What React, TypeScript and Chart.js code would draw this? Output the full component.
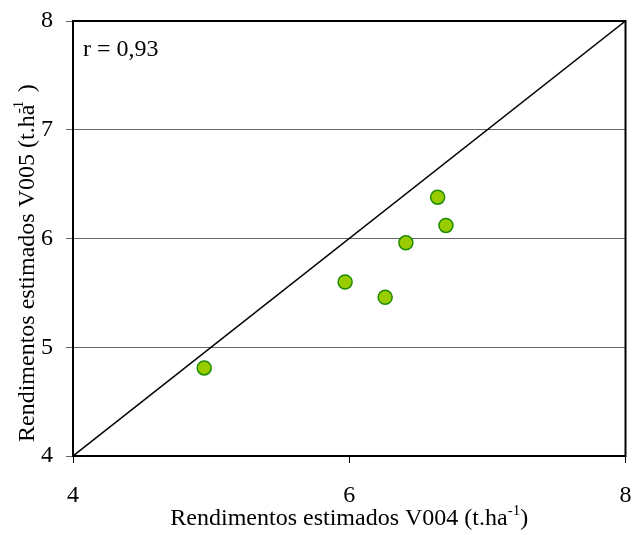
import React, { useEffect, useRef } from "react";
import { Chart, registerables } from "chart.js";

Chart.register(...registerables);

const xValues = [4.95, 5.97, 6.26, 6.41, 6.64, 6.70];
const yValues = [4.81, 5.60, 5.46, 5.96, 6.38, 6.12];
const lineX = [4, 8];
const lineY = [4, 8];
const xTitleMain = "Rendimentos estimados V004 (t.ha";
const yTitleMain = "Rendimentos estimados V005 (t.ha";
const supText = "-1";
const closeText = ")";
const rText = "r = 0,93";

const FONT = "'Liberation Serif', 'Times New Roman', serif";

const decorPlugin = {
  id: "decor",
  afterDraw(chart: any) {
    const ctx = chart.ctx;
    const a = chart.chartArea;
    ctx.save();
    ctx.strokeStyle = "#000";
    ctx.lineWidth = 2;
    ctx.strokeRect(a.left, a.top, a.right - a.left, a.bottom - a.top);

    ctx.fillStyle = "#000";
    ctx.textBaseline = "alphabetic";
    ctx.textAlign = "left";
    ctx.font = `24px ${FONT}`;
    ctx.fillText(rText, a.left + 10, a.top + 35);

    const measure = (main: string) => {
      ctx.font = `24px ${FONT}`;
      const wMain = ctx.measureText(main).width;
      const wA = ctx.measureText("a").width;
      const wClose = ctx.measureText(closeText).width;
      ctx.font = `15px ${FONT}`;
      const wSup = ctx.measureText(supText).width;
      return { wMain, wA, wSup, wClose, total: wMain + wSup + wClose };
    };

    {
      const m = measure(xTitleMain);
      const cx = (a.left + a.right) / 2;
      let x = cx - m.total / 2;
      const y = 525;
      ctx.font = `24px ${FONT}`;
      ctx.fillText(xTitleMain, x, y);
      x += m.wMain;
      ctx.font = `15px ${FONT}`;
      ctx.fillText(supText, x, y - 10);
      x += m.wSup;
      ctx.font = `24px ${FONT}`;
      ctx.fillText(closeText, x, y);
    }
    {
      const m = measure(yTitleMain);
      ctx.translate(34, 442);
      ctx.rotate(-Math.PI / 2);
      let x = 0;
      ctx.font = `24px ${FONT}`;
      ctx.fillText(yTitleMain, x, 0);
      x += m.wMain;
      ctx.font = `15px ${FONT}`;
      ctx.fillText(supText, x - m.wA * 0.8, -11);
      x += m.wSup;
      ctx.font = `24px ${FONT}`;
      ctx.fillText(closeText, x, 0);
    }
    ctx.restore();
  },
};

export default function App() {
  const ref = useRef<HTMLCanvasElement | null>(null);
  useEffect(() => {
    document.body.style.margin = "0";
    if (!ref.current) return;
    const chart = new Chart(ref.current, {
      type: "scatter",
      data: {
        datasets: [
          {
            type: "line",
            data: lineX.map((x, i) => ({ x, y: lineY[i] })),
            borderColor: "#000",
            borderWidth: 1.5,
            pointRadius: 0,
            fill: false,
          } as any,
          {
            data: xValues.map((x, i) => ({ x, y: yValues[i] })),
            backgroundColor: "#99cc00",
            borderColor: "#1e8c00",
            borderWidth: 1.5,
            pointRadius: 7,
          },
        ],
      },
      options: {
        animation: false,
        responsive: false,
        maintainAspectRatio: false,
        layout: { padding: { top: 21, right: 5, left: 0, bottom: 0 } },
        plugins: { legend: { display: false }, tooltip: { enabled: false } },
        scales: {
          x: {
            type: "linear",
            min: 4,
            max: 8,
            ticks: { stepSize: 2, color: "#000", font: { family: FONT, size: 24 }, padding: 18, maxRotation: 0 },
            grid: { drawOnChartArea: false, drawTicks: true, tickLength: 7, color: "#000", lineWidth: 1 },
            border: { color: "#000", width: 2 },
            afterFit: (s: any) => {
              s.height = 79;
              s.paddingLeft = 0;
              s.paddingRight = 0;
            },
          },
          y: {
            type: "linear",
            min: 4,
            max: 8,
            ticks: { stepSize: 1, color: "#000", font: { family: FONT, size: 24 }, padding: 13 },
            grid: { drawTicks: true, tickLength: 7, color: "#666", lineWidth: 1 },
            border: { color: "#000", width: 2 },
            afterFit: (s: any) => {
              s.width = 73;
              s.paddingTop = 0;
              s.paddingBottom = 0;
            },
          },
        },
      },
      plugins: [decorPlugin],
    });
    return () => chart.destroy();
  }, []);
  return (
    <div style={{ width: 634, height: 535 }}>
      <canvas ref={ref} width={634} height={535} style={{ display: "block" }} />
    </div>
  );
}
